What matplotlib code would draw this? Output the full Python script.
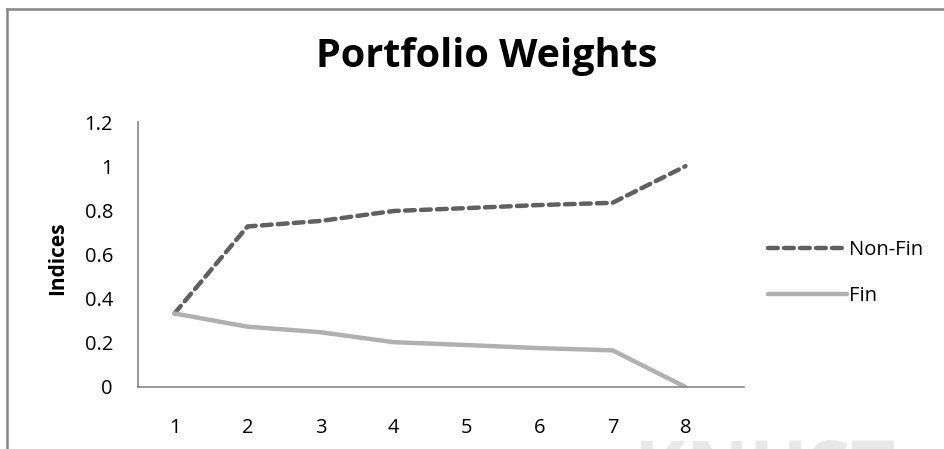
import matplotlib.pyplot as plt
from matplotlib.lines import Line2D

# Pesos del portafolio por periodo
periods = [1, 2, 3, 4, 5, 6, 7, 8]
non_fin = [0.333, 0.727, 0.752, 0.797, 0.810, 0.824, 0.834, 1.0]
fin = [0.333, 0.273, 0.248, 0.203, 0.190, 0.176, 0.166, 0.0]
y_ticks = [0, 0.2, 0.4, 0.6, 0.8, 1, 1.2]
y_tick_labels = ["0", "0.2", "0.4", "0.6", "0.8", "1", "1.2"]

plt.rcParams['font.family'] = ['Open Sans', 'DejaVu Sans']

fig = plt.figure(figsize=(9.44, 4.49), dpi=100)
ax = fig.add_axes([138 / 944, 1 - 387 / 449, 584 / 944, 265 / 449])

x = list(range(len(periods)))
ax.plot(x, non_fin, color='#606060', linestyle=(0, (2.2, 1.4)), linewidth=3.2,
        dash_capstyle='round', solid_capstyle='round', label='Non-Fin')
ax.plot(x, fin, color='#b0b0b0', linewidth=3.2, solid_capstyle='round', label='Fin')

ax.set_xlim(-0.5, len(periods) - 0.5)
ax.set_ylim(0, 1.2)
ax.set_xticks(x)
ax.set_xticklabels([str(p) for p in periods])
ax.set_yticks(y_ticks)
ax.set_yticklabels(y_tick_labels)
ax.tick_params(axis='both', length=0, labelsize=14.5, colors='black')
ax.tick_params(axis='y', pad=18)
ax.tick_params(axis='x', pad=22)

for side in ['top', 'right']:
    ax.spines[side].set_visible(False)
for side in ['left', 'bottom']:
    ax.spines[side].set_color('#868686')
    ax.spines[side].set_linewidth(1.2)
ax.spines['bottom'].set_bounds(-0.5, len(periods) - 0.5 + 0.3)

fig.text(487 / 944, 1 - 56 / 449, "Portfolio Weights", fontsize=28.5, fontweight='bold',
         ha='center', va='center')
fig.text(58 / 944, 1 - 258 / 449, "Indices", fontsize=15, fontweight='bold',
         rotation=90, ha='center', va='center')

# Leyenda a la derecha
fig.legend(loc='center left', bbox_to_anchor=(750 / 944, 1 - 273 / 449), frameon=False,
           fontsize=14.5, handlelength=3.9, labelspacing=1.3, handletextpad=0.1)

# Marco del área del gráfico
fig.add_artist(Line2D([6.5 / 944, 6.5 / 944], [0, 1 - 8.5 / 449], transform=fig.transFigure,
                      color='#868686', linewidth=1.8))
fig.add_artist(Line2D([6.5 / 944, 1], [1 - 8.5 / 449, 1 - 8.5 / 449], transform=fig.transFigure,
                      color='#868686', linewidth=1.8))

# Marca de agua (recortada por el borde inferior)
fig.text(765 / 944, 1 - 437 / 449, "KNUST", fontsize=56, fontweight='bold', color='#e8e8e8',
         ha='center', va='top', zorder=-1)

fig.savefig("out.png", dpi=100)
